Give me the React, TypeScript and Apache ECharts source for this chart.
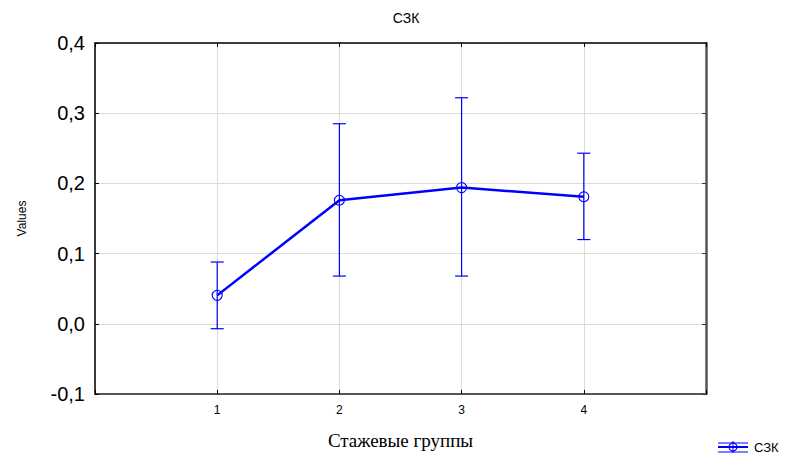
import React, { useEffect, useRef } from "react";
import * as echarts from "echarts";

const groups = [1, 2, 3, 4];
const means = [0.0405, 0.176, 0.194, 0.181];
const upper = [0.088, 0.285, 0.322, 0.243];
const lower = [-0.007, 0.068, 0.068, 0.12];
const seriesName = "СЗК";
const xTitle = "Стажевые группы";
const yTitle = "Values";

const BLUE = "#0000ff";

export default function App() {
  const ref = useRef<HTMLDivElement>(null);
  useEffect(() => {
    if (!ref.current) return;
    const chart = echarts.init(ref.current, null, { renderer: "svg" });
    const fmtY = (v: number) => v.toFixed(1).replace(".", ",");
    const option: any = {
      animation: false,
      backgroundColor: "#fff",
      title: {
        text: seriesName,
        left: 401,
        textAlign: "center",
        top: 6,
        textStyle: { fontFamily: "Liberation Sans", fontSize: 14, fontWeight: "normal", color: "#000" },
      },
      grid: { left: 95, right: 83, top: 43, bottom: 60 },
      xAxis: [
        {
          type: "value",
          min: 0,
          max: 5,
          interval: 1,
          name: xTitle,
          nameLocation: "middle",
          nameGap: 37,
          nameTextStyle: { fontFamily: "Liberation Serif", fontSize: 19, color: "#000" },
          axisLine: { show: true, onZero: false, lineStyle: { color: "#555", width: 2 } },
          axisTick: { show: true, inside: true, length: 4, lineStyle: { color: "#000" } },
          axisLabel: {
            fontFamily: "Liberation Sans",
            fontSize: 12,
            color: "#000",
            margin: 10,
            formatter: (v: number) => (v >= 1 && v <= 4 ? String(v) : ""),
          },
          splitLine: { show: true, lineStyle: { color: "#dcdcdc" } },
        },
        {
          type: "value",
          position: "top",
          min: 0,
          max: 5,
          interval: 1,
          axisLine: { show: true, onZero: false, lineStyle: { color: "#000", width: 1.5 } },
          axisTick: { show: true, inside: true, length: 4, lineStyle: { color: "#000" } },
          axisLabel: { show: false },
          splitLine: { show: false },
        },
      ],
      yAxis: [
        {
          type: "value",
          min: -0.1,
          max: 0.4,
          interval: 0.1,
          name: yTitle,
          nameLocation: "middle",
          nameGap: 67,
          nameTextStyle: { fontFamily: "Liberation Sans", fontSize: 12, color: "#000" },
          axisLine: { show: true, onZero: false, lineStyle: { color: "#000", width: 1.5 } },
          axisTick: { show: true, inside: true, length: 4, lineStyle: { color: "#000" } },
          axisLabel: {
            fontFamily: "Liberation Sans",
            fontSize: 20,
            color: "#000",
            margin: 10,
            formatter: fmtY,
          },
          splitLine: { show: true, lineStyle: { color: "#dcdcdc" } },
        },
        {
          type: "value",
          position: "right",
          min: -0.1,
          max: 0.4,
          interval: 0.1,
          axisLine: { show: true, onZero: false, lineStyle: { color: "#555", width: 2.5 } },
          axisTick: { show: true, inside: true, length: 4, lineStyle: { color: "#333" } },
          axisLabel: { show: false },
          splitLine: { show: false },
        },
      ],
      series: [
        {
          type: "custom",
          name: "err",
          z: 2,
          data: groups.map((g, i) => [g, lower[i], upper[i]]),
          renderItem: (params: any, api: any) => {
            const x = api.value(0);
            const lo = api.coord([x, api.value(1)]);
            const hi = api.coord([x, api.value(2)]);
            const hw = 6.5;
            const style = { stroke: BLUE, lineWidth: 1.2 };
            return {
              type: "group",
              children: [
                { type: "line", shape: { x1: lo[0], y1: lo[1], x2: hi[0], y2: hi[1] }, style },
                { type: "line", shape: { x1: hi[0] - hw, y1: hi[1], x2: hi[0] + hw, y2: hi[1] }, style },
                { type: "line", shape: { x1: lo[0] - hw, y1: lo[1], x2: lo[0] + hw, y2: lo[1] }, style },
              ],
            };
          },
        },
        {
          type: "line",
          name: seriesName,
          z: 3,
          data: groups.map((g, i) => [g, means[i]]),
          symbol: "circle",
          symbolSize: 10,
          lineStyle: { color: BLUE, width: 2.5 },
          itemStyle: { color: "rgba(0,0,0,0)", borderColor: BLUE, borderWidth: 1.1 },
        },
      ],
      graphic: [
        { type: "line", shape: { x1: 718, y1: 443, x2: 748, y2: 443 }, style: { stroke: BLUE, lineWidth: 1 } },
        { type: "line", shape: { x1: 718, y1: 447, x2: 748, y2: 447 }, style: { stroke: BLUE, lineWidth: 2 } },
        { type: "line", shape: { x1: 718, y1: 452, x2: 748, y2: 452 }, style: { stroke: BLUE, lineWidth: 1 } },
        { type: "line", shape: { x1: 733, y1: 441, x2: 733, y2: 453 }, style: { stroke: BLUE, lineWidth: 1 } },
        { type: "circle", shape: { cx: 733, cy: 447, r: 4 }, style: { fill: "none", stroke: BLUE, lineWidth: 1.2 } },
        {
          type: "text",
          x: 754,
          y: 447,
          style: {
            text: seriesName,
            fontFamily: "Liberation Sans",
            fontSize: 13,
            fill: "#000",
            textVerticalAlign: "middle",
          },
        },
      ],
    };
    chart.setOption(option);
    return () => chart.dispose();
  }, []);
  return <div ref={ref} style={{ width: 789, height: 455, position: "absolute", left: 0, top: 0 }} />;
}
